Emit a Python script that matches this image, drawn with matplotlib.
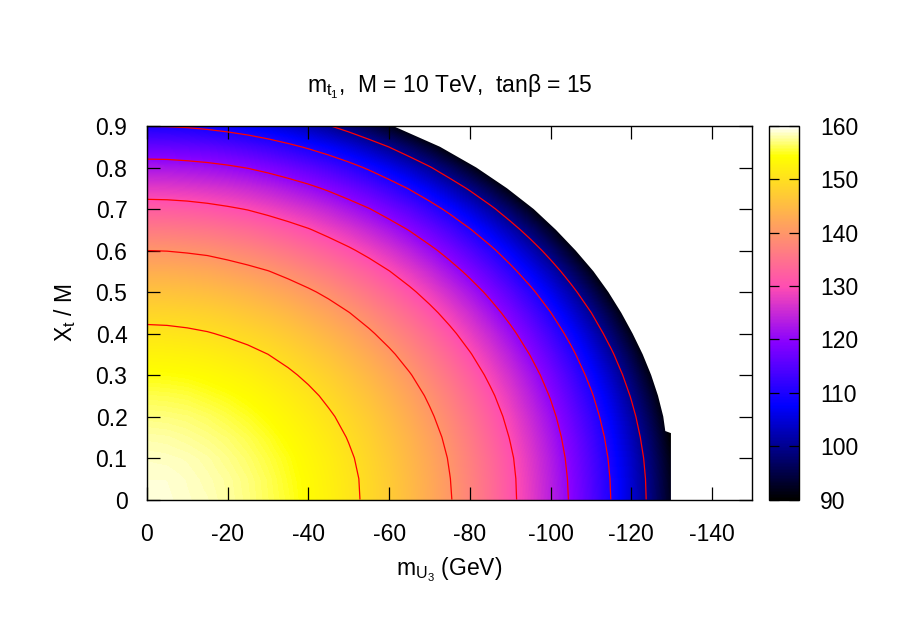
import numpy as np
import matplotlib
matplotlib.use('Agg')
import matplotlib.pyplot as plt
from matplotlib.colors import ListedColormap
from matplotlib.patches import Polygon

plt.rcParams['font.family'] = ['Liberation Sans', 'DejaVu Sans']
plt.rcParams['mathtext.fontset'] = 'custom'
plt.rcParams['mathtext.rm'] = 'Liberation Sans'
plt.rcParams['mathtext.it'] = 'Liberation Sans:italic'
plt.rcParams['axes.unicode_minus'] = False

# grid of the map: m_U3 (GeV) columns, Xt/M rows
m_u3 = [0, -5, -10, -15, -20, -25, -30, -35, -40, -45, -50, -55, -60, -65, -70, -75,
        -80, -85, -90, -95, -100, -105, -110, -115, -120, -125, -130, -135, -140, -145, -150]
xt_m = [0.0, 0.05, 0.1, 0.15, 0.2, 0.25, 0.3, 0.35, 0.4, 0.45,
        0.5, 0.55, 0.6, 0.65, 0.7, 0.75, 0.8, 0.85, 0.9]

# m_t1 (GeV) read off the colour map / contours, one row per Xt/M value
# (entries past the white edge only serve the shading of the edge cells)
m_t1 = [
    [159.1, 159.0, 158.7, 158.4, 157.8, 157.1, 156.2, 155.2, 153.9, 152.6, 151.0, 149.2, 147.3, 145.2, 142.8, 140.3, 137.5, 134.4, 131.1, 127.6, 123.7, 119.5, 114.9, 109.9, 104.4, 98.4, 91.7, 84.1, 75.5, 65.4, 52.9],
    [158.9, 158.9, 158.6, 158.2, 157.7, 157.0, 156.1, 155.0, 153.8, 152.4, 150.9, 149.1, 147.2, 145.0, 142.7, 140.1, 137.3, 134.3, 131.0, 127.4, 123.5, 119.3, 114.7, 109.7, 104.2, 98.2, 91.4, 83.9, 75.2, 65.1, 52.5],
    [158.6, 158.5, 158.3, 157.9, 157.3, 156.6, 155.7, 154.7, 153.4, 152.1, 150.5, 148.7, 146.8, 144.6, 142.3, 139.7, 136.9, 133.9, 130.6, 127.0, 123.1, 118.8, 114.2, 109.2, 103.7, 97.6, 90.8, 83.2, 74.5, 64.2, 51.4],
    [158.0, 157.9, 157.6, 157.2, 156.7, 156.0, 155.1, 154.0, 152.8, 151.4, 149.8, 148.1, 146.1, 144.0, 141.6, 139.0, 136.2, 133.1, 129.8, 126.2, 122.3, 118.0, 113.4, 108.3, 102.7, 96.6, 89.7, 82.0, 73.1, 62.7, 49.5],
    [157.1, 157.0, 156.8, 156.4, 155.8, 155.1, 154.2, 153.1, 151.9, 150.5, 148.9, 147.2, 145.2, 143.0, 140.6, 138.0, 135.2, 132.1, 128.8, 125.1, 121.2, 116.8, 112.2, 107.0, 101.4, 95.1, 88.2, 80.3, 71.3, 60.4, 46.7],
    [156.0, 155.9, 155.7, 155.2, 154.7, 154.0, 153.1, 152.0, 150.8, 149.3, 147.7, 146.0, 144.0, 141.8, 139.4, 136.8, 133.9, 130.8, 127.4, 123.7, 119.7, 115.3, 110.6, 105.4, 99.6, 93.3, 86.2, 78.1, 68.8, 57.5, 42.7],
    [154.6, 154.5, 154.3, 153.9, 153.3, 152.6, 151.6, 150.6, 149.3, 147.9, 146.3, 144.5, 142.5, 140.3, 137.8, 135.2, 132.3, 129.1, 125.7, 122.0, 117.9, 113.5, 108.6, 103.3, 97.5, 91.0, 83.6, 75.3, 65.6, 53.6, 37.4],
    [152.9, 152.8, 152.6, 152.2, 151.6, 150.9, 150.0, 148.9, 147.6, 146.2, 144.5, 142.7, 140.7, 138.4, 136.0, 133.3, 130.3, 127.1, 123.6, 119.8, 115.7, 111.2, 106.2, 100.8, 94.8, 88.1, 80.5, 71.8, 61.5, 48.6, 29.8],
    [151.0, 150.9, 150.6, 150.2, 149.6, 148.9, 148.0, 146.9, 145.6, 144.1, 142.5, 140.6, 138.5, 136.3, 133.8, 131.0, 128.0, 124.8, 121.2, 117.3, 113.1, 108.5, 103.4, 97.8, 91.6, 84.7, 76.8, 67.6, 56.5, 42.1, 17.2],
    [148.7, 148.6, 148.4, 148.0, 147.4, 146.6, 145.7, 144.6, 143.2, 141.8, 140.1, 138.2, 136.1, 133.8, 131.2, 128.4, 125.4, 122.0, 118.4, 114.4, 110.1, 105.3, 100.1, 94.3, 87.9, 80.6, 72.3, 62.4, 50.2, 33.1, 0.0],
    [146.2, 146.1, 145.8, 145.4, 144.8, 144.0, 143.0, 141.9, 140.6, 139.1, 137.3, 135.4, 133.3, 130.9, 128.3, 125.4, 122.3, 118.9, 115.2, 111.1, 106.6, 101.7, 96.2, 90.2, 83.4, 75.7, 66.8, 56.0, 42.0, 18.4, 0.0],
    [143.2, 143.2, 142.9, 142.5, 141.8, 141.0, 140.1, 138.9, 137.5, 136.0, 134.2, 132.3, 130.1, 127.7, 125.0, 122.0, 118.8, 115.3, 111.4, 107.2, 102.6, 97.4, 91.8, 85.4, 78.2, 70.0, 60.2, 47.9, 29.5, 0.0, 0.0],
    [140.0, 139.9, 139.6, 139.2, 138.5, 137.7, 136.7, 135.5, 134.1, 132.5, 130.7, 128.7, 126.5, 124.0, 121.2, 118.2, 114.8, 111.2, 107.2, 102.8, 97.9, 92.5, 86.5, 79.8, 72.0, 63.0, 51.9, 37.0, 0.0, 0.0, 0.0],
    [136.3, 136.2, 135.9, 135.5, 134.8, 134.0, 132.9, 131.7, 130.3, 128.6, 126.8, 124.7, 122.4, 119.8, 116.9, 113.8, 110.3, 106.5, 102.3, 97.7, 92.6, 86.9, 80.5, 73.1, 64.6, 54.3, 40.9, 18.6, 0.0, 0.0, 0.0],
    [132.2, 132.1, 131.8, 131.3, 130.6, 129.8, 128.7, 127.4, 126.0, 124.3, 122.3, 120.2, 117.7, 115.1, 112.1, 108.8, 105.2, 101.2, 96.8, 91.9, 86.4, 80.2, 73.2, 65.1, 55.4, 42.9, 23.8, 0.0, 0.0, 0.0, 0.0],
    [127.5, 127.4, 127.1, 126.6, 126.0, 125.1, 124.0, 122.6, 121.1, 119.3, 117.3, 115.1, 112.5, 109.7, 106.6, 103.1, 99.3, 95.1, 90.4, 85.1, 79.2, 72.4, 64.5, 55.1, 43.2, 25.3, 0.0, 0.0, 0.0, 0.0, 0.0],
    [122.4, 122.3, 121.9, 121.4, 120.7, 119.8, 118.6, 117.2, 115.6, 113.8, 111.7, 109.3, 106.6, 103.7, 100.4, 96.7, 92.6, 88.0, 82.9, 77.1, 70.5, 62.8, 53.6, 41.8, 23.9, 0.0, 0.0, 0.0, 0.0, 0.0, 0.0],
    [116.5, 116.4, 116.1, 115.6, 114.8, 113.8, 112.6, 111.1, 109.4, 107.5, 105.3, 102.7, 99.9, 96.7, 93.2, 89.2, 84.7, 79.7, 74.0, 67.5, 59.8, 50.5, 38.5, 18.8, 0.0, 0.0, 0.0, 0.0, 0.0, 0.0, 0.0],
    [109.9, 109.8, 109.5, 108.9, 108.1, 107.1, 105.8, 104.2, 102.4, 100.3, 97.9, 95.2, 92.1, 88.7, 84.8, 80.4, 75.4, 69.7, 63.2, 55.4, 45.7, 32.6, 0.0, 0.0, 0.0, 0.0, 0.0, 0.0, 0.0, 0.0, 0.0],
]

# edge of the allowed region (white beyond it)
edge_y = [0.0, 0.16, 0.165, 0.2, 0.25, 0.3, 0.35, 0.4, 0.45, 0.5, 0.55, 0.6, 0.65, 0.7, 0.75, 0.8, 0.85, 0.9]
edge_x = [-129.8, -129.8, -128.4, -127.9, -126.6, -124.9, -122.8, -120.3, -117.5, -114.3, -110.6, -106.2, -101.3, -95.8, -89.2, -81.6, -72.6, -61.0]

levels = [100, 110, 120, 130, 140, 150]
cb_ticks = [90, 100, 110, 120, 130, 140, 150, 160]
x_ticks = [0, -20, -40, -60, -80, -100, -120, -140]
y_ticks = [0, 0.1, 0.2, 0.3, 0.4, 0.5, 0.6, 0.7, 0.8, 0.9]

# gnuplot palette rgbformulae 30,31,32
s = np.linspace(0, 1, 256)
r = np.clip(s / 0.32 - 0.78125, 0, 1)
g = np.clip(2 * s - 0.84, 0, 1)
b = np.clip(np.select([s < 0.25, s < 0.42, s < 0.92],
                      [4 * s, np.ones_like(s), -2 * s + 1.84],
                      s / 0.08 - 11.5), 0, 1)
cmap = ListedColormap(np.column_stack([r, g, b]))

fig = plt.figure(figsize=(9, 6.28), dpi=100)
ax = fig.add_axes([0.1632, 0.2046, 0.6729, 0.5947])

Z = np.array(m_t1)
hx = (m_u3[1] - m_u3[0]) / 2
hy = (xt_m[1] - xt_m[0]) / 2
im = ax.imshow(Z, origin='lower', cmap=cmap, vmin=90, vmax=160, aspect='auto',
               interpolation='bilinear',
               extent=(m_u3[0] - hx, m_u3[-1] + hx, xt_m[0] - hy, xt_m[-1] + hy))
cs = ax.contour(m_u3, xt_m, Z, levels=levels, colors='#ff0000', linewidths=0.9)

# clip everything to the allowed region
verts = ([(m_u3[0] - hx, xt_m[0] - hy), (edge_x[0], xt_m[0] - hy)]
         + list(zip(edge_x, edge_y))
         + [(edge_x[-1], xt_m[-1] + hy), (m_u3[0] - hx, xt_m[-1] + hy)])
region = Polygon(verts, closed=True, transform=ax.transData)
im.set_clip_path(region)
cs.set_clip_path(region)

ax.set_xlim(0, -150)
ax.set_ylim(0, 0.9)
ax.set_xticks(x_ticks, [str(t) for t in x_ticks])
ax.set_yticks(y_ticks, ['0'] + ['%.1f' % t for t in y_ticks[1:]])
ax.tick_params(direction='in', length=9.4, width=0.9, top=True, right=True,
               labelsize=16.5, colors='black')
ax.tick_params(axis='x', pad=17.0)
ax.tick_params(axis='y', pad=14.0)
for sp in ax.spines.values():
    sp.set_linewidth(1.0)

ax.set_title(r'$\mathregular{m_{t_1}}$,  M = 10 TeV,  tan$\mathregular{\beta}$ = 15',
             fontsize=16.5, pad=24.5)
fig.text(449 / 900, 1 - 575 / 628, r'$\mathregular{m_{U_3}}$ (GeV)',
         fontsize=16.5, ha='center', va='baseline')
fig.text(65 / 900, 1 - 313 / 628, r'$\mathregular{X_t}$ / M',
         fontsize=16.5, ha='center', va='center', rotation=90)

cax = fig.add_axes([0.8544, 0.2046, 0.0333, 0.5947])
cb = fig.colorbar(im, cax=cax, ticks=cb_ticks)
cb.outline.set_linewidth(1.0)
cax.tick_params(direction='in', length=7, width=0.9, left=True, right=True,
                labelsize=16.5, pad=15)

fig.savefig('out.png', dpi=100)
